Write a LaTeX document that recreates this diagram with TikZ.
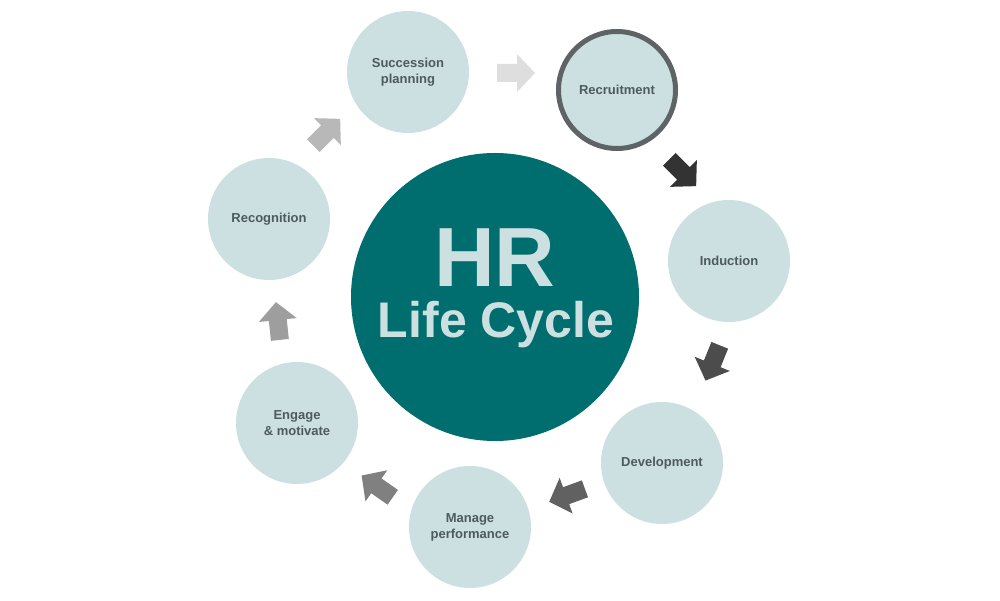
\documentclass[tikz,border=0pt]{standalone}
\usepackage{fontspec}
\setmainfont{Liberation Sans}
\definecolor{pale}{HTML}{CDE0E1}
\definecolor{teal}{HTML}{006E6E}
\definecolor{txt}{HTML}{4D5A5F}
\definecolor{ring}{HTML}{5E6366}
\tikzset{
  stage/.style={circle,fill=pale,minimum size=122pt,inner sep=0pt,align=center,font=\bfseries\fontsize{13}{16}\selectfont,text=txt},
  blockarrow/.pic={\fill[#1] (-18,-9)--(2,-9)--(2,-19)--(20,0)--(2,19)--(2,9)--(-18,9)--cycle;}
}
\begin{document}
\begin{tikzpicture}[x=1pt,y=1pt]
\useasboundingbox (0,0) rectangle (1000,600);
\node[circle,fill=teal,minimum size=288pt,inner sep=0pt] (hr) at (495,{600-297}) {};
\node[text=pale,inner sep=0pt,font=\bfseries\fontsize{84}{84}\selectfont] (t1) at (495,{600-258}) {HR};
\node[text=pale,inner sep=0pt,font=\bfseries\fontsize{50}{50}\selectfont] (t2) at (496,{600-325}) {Life Cycle};
\node[stage] (s) at (408,{600-72}) {Succession\\planning};
\node[stage,draw=ring,line width=5pt,minimum size=117pt] (r) at (617,{600-90}) {Recruitment};
\node[stage] (i) at (729,{600-261}) {Induction};
\node[stage] (d) at (662,{600-463}) {Development};
\node[stage] (m) at (470,{600-527}) {Manage\\performance};
\node[stage] (e) at (297,{600-423}) {Engage\\\& motivate};
\node[stage] (g) at (269,{600-219}) {Recognition};
\pic[rotate=0] at (515,{600-73}) {blockarrow={fill=black!13}};
\pic[rotate=-45] at (682,{600-172}) {blockarrow={fill=black!80}};
\pic[rotate=-112] at (713,{600-362}) {blockarrow={fill=black!70}};
\pic[rotate=-160] at (568,{600-495}) {blockarrow={fill=black!62}};
\pic[rotate=145] at (378,{600-487}) {blockarrow={fill=black!50}};
\pic[rotate=96] at (278,{600-322}) {blockarrow={fill=black!38}};
\pic[rotate=45] at (326,{600-133}) {blockarrow={fill=black!28}};
\end{tikzpicture}
\end{document}
